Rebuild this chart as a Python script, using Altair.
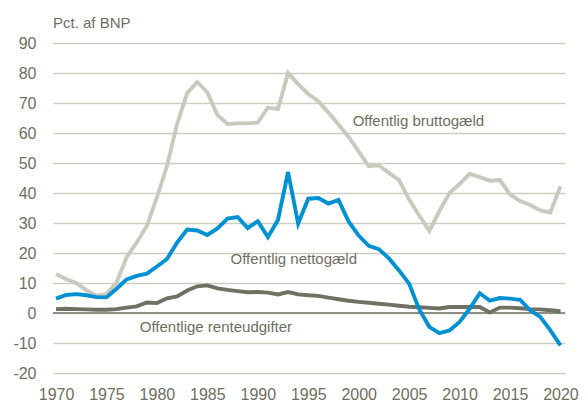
import altair as alt
import pandas as pd

years = list(range(1970, 2021))
brutto = [13, 11.3, 10, 7.6, 5.8, 6.3, 10.2, 18.6, 23.5, 29, 38.5, 49, 63, 73.3, 77, 73.5,
          66, 63, 63.2, 63.2, 63.5, 68.5, 68, 80, 76.3, 73, 70.6, 66.8, 62.8, 58.7, 53.9,
          48.9, 49.2, 46.7, 44.3, 37.8, 32.5, 27.4, 34, 40, 43, 46.4, 45.3, 44.1, 44.3,
          39.5, 37.3, 36, 34.2, 33.5, 42.3]
netto = [4.8, 6.0, 6.3, 5.9, 5.3, 5.2, 8.1, 11.2, 12.4, 13.1, 15.5, 18, 23.5, 27.8, 27.5,
         26, 28.2, 31.5, 32, 28.3, 30.6, 25.3, 31, 47, 29.8, 38.1, 38.3, 36.5, 37.7, 30.5,
         25.8, 22.4, 21.3, 18.2, 14.2, 9.8, 1.2, -4.6, -6.7, -5.8, -3, 1.4, 6.6, 4.1, 5,
         4.8, 4.4, 0.9, -1.3, -5.8, -10.8]
rente = [1.3, 1.4, 1.3, 1.2, 1.1, 1.1, 1.3, 1.8, 2.2, 3.5, 3.3, 4.9, 5.5, 7.5, 8.9, 9.2,
         8.2, 7.7, 7.3, 6.9, 7, 6.8, 6.2, 7, 6.2, 5.9, 5.7, 5.1, 4.6, 4.1, 3.7, 3.4, 3.1,
         2.8, 2.4, 2.1, 1.9, 1.7, 1.5, 2, 2, 2, 2, 0.2, 1.8, 1.8, 1.6, 1.3, 1.2, 0.9, 0.6]

series_names = ["Offentlig bruttogæld", "Offentlige renteudgifter", "Offentlig nettogæld"]
series_colors = ["#C9C9BE", "#707063", "#0091D2"]
y_ticks = list(range(-20, 91, 10))
x_ticks = list(range(1970, 2021, 5))

rows = []
for name, vals in zip(series_names, [brutto, rente, netto]):
    for yr, v in zip(years, vals):
        rows.append({"year": yr, "value": v, "series": name})
df = pd.DataFrame(rows)

labels = pd.DataFrame({
    "text": ["Offentlig bruttogæld", "Offentlig nettogæld", "Offentlige renteudgifter"],
    "year": [1999.4, 1987.3, 1978.3],
    "value": [64.1, 18.1, -4.5],
})

text_color = "#6E6E62"
xscale = alt.Scale(domain=[1969.7, 2020.45], nice=False, zero=False)
yscale = alt.Scale(domain=[-20, 90], nice=False)

x_axis = alt.Axis(values=x_ticks, format="d", title=None, grid=False, domain=False,
                  ticks=False, labelFontSize=16, labelColor=text_color,
                  labelFont="Liberation Sans", labelPadding=13, labelOverlap=False)
y_axis = alt.Axis(values=y_ticks, title=None, grid=True, gridColor="#CDCDC3",
                  gridWidth=1.6, domain=False, ticks=False, labelFontSize=16,
                  labelColor=text_color, labelFont="Liberation Sans", labelPadding=17,
                  labelOverlap=False, labelExpr="'' + datum.value")

X = lambda f: alt.X(f, scale=xscale, axis=x_axis)
Y = lambda f: alt.Y(f, scale=yscale, axis=y_axis)

zero = alt.Chart(pd.DataFrame({"value": [0]})).mark_rule(color="#8E8E84", strokeWidth=2).encode(
    y=Y("value:Q")
)

layers = []
for name, col in zip(series_names, series_colors):
    layers.append(
        alt.Chart(df[df["series"] == name]).mark_line(strokeWidth=3.9).encode(
            x=X("year:Q"),
            y=Y("value:Q"),
            color=alt.value(col),
        )
    )

texts = alt.Chart(labels).mark_text(align="left", baseline="middle", fontSize=15,
                                     font="Liberation Sans", color=text_color).encode(
    x=X("year:Q"),
    y=Y("value:Q"),
    text="text:N",
)

title = alt.Chart(pd.DataFrame({"t": ["Pct. af BNP"]})).mark_text(
    align="left", baseline="middle", fontSize=15, font="Liberation Sans", color=text_color
).encode(x=alt.value(0), y=alt.value(-20), text="t:N")

chart = alt.layer(zero, *layers, texts, title).properties(
    width=512, height=330, autosize="none",
    padding={"left": 45, "top": 35, "right": 14, "bottom": 40},
).configure_view(stroke=None)

chart.save("out.html", embed_options={"renderer": "svg", "actions": False})
